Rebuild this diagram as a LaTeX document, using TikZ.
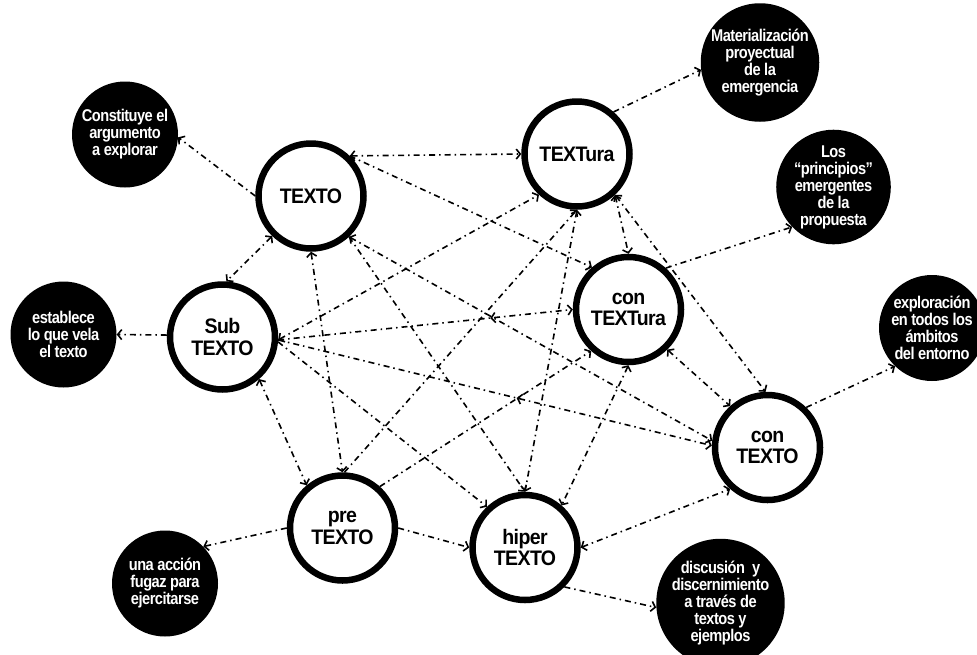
\documentclass[tikz,border=0pt]{standalone}
\usepackage{fontspec}
\setmainfont{Liberation Sans}
\newfontfamily\bigfont[FakeStretch=0.93,LetterSpace=-3]{Liberation Sans Bold}
\newfontfamily\smallfont[FakeStretch=0.86,LetterSpace=-3]{Liberation Sans Bold}
\usetikzlibrary{arrows.meta,decorations.markings}
\begin{document}
\begin{tikzpicture}[x=1pt,y=-1pt,
  ring/.style={circle,draw=black,line width=6.5pt,fill=white,minimum size=105pt,inner sep=0pt,align=center,font=\bigfont\fontsize{21pt}{21.5pt}\selectfont},
  blob/.style={circle,fill=black,minimum size=106pt,inner sep=0pt,align=center,text=white,font=\smallfont\fontsize{17pt}{17pt}\selectfont},
  tip/.tip={Straight Barb[length=4pt,width=10pt]},
  link/.style={line width=1.6pt,dash pattern=on 6pt off 4pt on 1.5pt off 4pt,-tip},
  both/.style={link,tip-tip},
  midback/.style={postaction={decorate,decoration={markings,mark=at position #1 with {\pgfsetdash{}{0pt}\arrowreversed[line width=1.6pt]{tip}}}}}
]
\useasboundingbox (0,0) rectangle (977,654);
\fill[white] (0,0) rectangle (977,654);

% main ring nodes
\node[ring] (TEXTO) at (311,196) {TEXTO};
\node[ring] (Sub) at (222.5,337) {Sub\\TEXTO};
\node[ring] (TEXTura) at (577,154) {TEXTura};
\node[ring] (conTEXTura) at (628.5,309.5) {con\\TEXTura};
\node[ring] (conTEXTO) at (767.5,447.5) {con\\TEXTO};
\node[ring] (pre) at (342.5,528) {pre\\TEXTO};
\node[ring] (hiper) at (525,547.5) {hiper\\TEXTO};

% black description nodes
\node[blob] (Const) at (125,134.5) {Constituye el\\argumento\\a explorar};
\node[blob] (Est) at (63.5,334.5) {establece\\lo que vela\\el texto};
\node[blob] (Mat) at (760,62.5) {Materialización\\proyectual\\de la\\emergencia};
\node[blob] (Prin) at (833.5,187) {Los\\“principios”\\emergentes\\de la\\propuesta};
\node[blob] (Expl) at (932,328) {exploración\\en todos los\\ámbitos\\del entorno};
\node[blob] (Una) at (165,583.5) {una acción\\fugaz para\\ejercitarse};
\node[blob] (Disc) at (720.5,603) {discusión\ \ y\\discernimiento\\a través de\\textos y\\ejemplos};

% outward links
\draw[link] (TEXTO.180) -- (Const.-3);
\draw[link] (Sub.178) -- (Est.0);
\draw[link] (TEXTura.49) -- (Mat.187);
\draw[link] (conTEXTura.48) -- (Prin.224);
\draw[link] (conTEXTO.46) -- (Expl.226);
\draw[link] (hiper.-45) -- (Disc.184);
\draw[link] (pre.180) -- (Una.44);

% network links
\draw[both] (TEXTO.46) -- (TEXTura.180);
\draw[both] (TEXTO.226) -- (Sub.86);
\draw[link] (TEXTO.46) -- (conTEXTura.131);
\draw[both] (TEXTO.-47) -- (conTEXTO.173);
\draw[link] (TEXTO.-47) -- (hiper.90);
\draw[both] (TEXTO.270) -- (pre.90);
\draw[both] (Sub.-49) -- (pre.130);
\draw[both] (Sub.-3) -- (TEXTura.227);
\draw[link,midback=0.72] (Sub.-3) -- (conTEXTura.180);
\draw[link,midback=0.55] (Sub.-3) -- (conTEXTO.178);
\draw[link] (Sub.-5) -- (hiper.133);
\draw[both] (TEXTura.-47) -- (conTEXTura.90);
\draw[both] (TEXTura.-47) -- (conTEXTO.92);
\draw[both] (TEXTura.270) -- (hiper.90);
\draw[link] (pre.88) -- (TEXTura.270);
\draw[both] (conTEXTura.-46) -- (conTEXTO.132);
\draw[link] (pre.48) -- (conTEXTura.228);
\draw[both] (conTEXTura.270) -- (hiper.49);
\draw[both] (hiper.0) -- (conTEXTO.228);
\draw[link] (pre.0) -- (hiper.180);
\end{tikzpicture}
\end{document}
